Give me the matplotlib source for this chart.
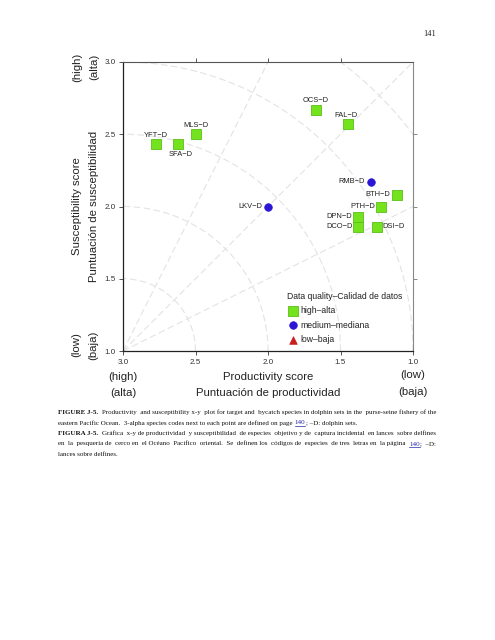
import matplotlib
matplotlib.use("Agg")
import matplotlib.pyplot as plt
import numpy as np
from matplotlib.lines import Line2D

plt.rcParams['font.family'] = ['Liberation Sans', 'DejaVu Sans']

# ---------------- data ----------------
high_codes = ['YFT−D', 'SFA−D', 'MLS−D', 'OCS−D', 'FAL−D',
              'BTH−D', 'PTH−D', 'DPN−D', 'DCO−D', 'DSI−D']
high_productivity = [2.77, 2.62, 2.50, 1.67, 1.45, 1.11, 1.22, 1.38, 1.38, 1.25]
high_susceptibility = [2.43, 2.43, 2.50, 2.67, 2.57, 2.08, 2.00, 1.93, 1.86, 1.86]

medium_codes = ['RMB−D', 'LKV−D']
medium_productivity = [1.29, 2.00]
medium_susceptibility = [2.17, 2.00]

low_codes = []
low_productivity = []
low_susceptibility = []

tick_values = [3.0, 2.5, 2.0, 1.5, 1.0]
tick_labels = ['3.0', '2.5', '2.0', '1.5', '1.0']
legend_labels = ['high–alta', 'medium–mediana', 'low–baja']
legend_title = 'Data quality–Calidad de datos'

# label placement (style): offset in points and alignment
label_style = {
    'YFT−D': ((0, 6.1), 'center', 'center'),
    'SFA−D': ((1.9, -7.0), 'center', 'center'),
    'MLS−D': ((0.5, 6.3), 'center', 'center'),
    'OCS−D': ((0, 6.4), 'center', 'center'),
    'FAL−D': ((-1.2, 6.3), 'center', 'center'),
    'RMB−D': ((-4.4, 0), 'right', 'center'),
    'BTH−D': ((-4.8, 0), 'right', 'center'),
    'PTH−D': ((-4.2, 0), 'right', 'center'),
    'DPN−D': ((-4.0, 0), 'right', 'center'),
    'DCO−D': ((-4.0, 0), 'right', 'center'),
    'DSI−D': ((4.0, 0), 'left', 'center'),
    'LKV−D': ((-4.2, 0), 'right', 'center'),
}

W, H = 495, 640
fig = plt.figure(figsize=(W / 100, H / 100), dpi=100)
fig.patch.set_facecolor('white')

def fx(px):
    return px / W

def fy(py):
    return 1 - py / H

ax_l, ax_r, ax_t, ax_b = 123, 413, 62, 351
ax = fig.add_axes([fx(ax_l), fy(ax_b), (ax_r - ax_l) / W, (ax_b - ax_t) / H])
ax.set_xlim(3.0, 1.0)
ax.set_ylim(1.0, 3.0)

# polar-style grid centred on (3, 1)
grid_kw = dict(color='#e3e3e3', lw=0.8, ls=(0, (6, 3)), zorder=0)
theta = np.linspace(0, np.pi / 2, 300)
for r in [0.5, 1.0, 1.5, 2.0, 2.5]:
    ax.plot(3 - r * np.cos(theta), 1 + r * np.sin(theta), **grid_kw)
for slope in [0.5, 1.0, 2.0]:
    a = np.arctan(slope)
    ax.plot([3, 3 - 3 * np.cos(a)], [1, 1 + 3 * np.sin(a)], **grid_kw)

# points
sq_kw = dict(marker='s', s=54, facecolor='#74E21C', edgecolor='#5BC018', linewidth=0.6, zorder=3)
ci_kw = dict(marker='o', s=30, facecolor='#2B16D6', edgecolor='#2B16D6', linewidth=0.5, zorder=3)
tr_kw = dict(marker='^', s=30, facecolor='#C81E1E', edgecolor='#C81E1E', linewidth=0.5, zorder=3)
h_high = ax.scatter(high_productivity, high_susceptibility, label=legend_labels[0], **sq_kw)
h_med = ax.scatter(medium_productivity, medium_susceptibility, label=legend_labels[1], **ci_kw)
h_low = ax.scatter(low_productivity, low_susceptibility, label=legend_labels[2], **tr_kw)

for codes, xs, ys in [(high_codes, high_productivity, high_susceptibility),
                      (medium_codes, medium_productivity, medium_susceptibility),
                      (low_codes, low_productivity, low_susceptibility)]:
    for c, x, y in zip(codes, xs, ys):
        off, ha, va = label_style.get(c, ((0, 6), 'center', 'center'))
        ax.annotate(c, (x, y), xytext=off, textcoords='offset points',
                    ha=ha, va=va, fontsize=5.4, color='#222222', zorder=4)

# axes styling
ax.set_xticks(tick_values)
ax.set_xticklabels(tick_labels)
ax.set_yticks(tick_values[::-1])
ax.set_yticklabels(tick_labels[::-1])
ax.tick_params(direction='out', length=3, width=0.7, colors='#555555',
               labelsize=5.8, labelcolor='#333333', pad=2.5)
for side in ['left', 'bottom']:
    ax.spines[side].set_color('#222222')
    ax.spines[side].set_linewidth(0.9)
ax.spines['top'].set_color('#555555')
ax.spines['top'].set_linewidth(0.8)
ax.spines['right'].set_color('#888888')
ax.spines['right'].set_linewidth(0.8)

secx = ax.secondary_xaxis('top')
secx.set_xticks(tick_values[1:4])
secx.set_xticklabels([])
secx.tick_params(direction='out', length=3, width=0.7, colors='#555555')
secx.spines['top'].set_visible(False)
secy = ax.secondary_yaxis('right')
secy.set_yticks(tick_values[1:4])
secy.set_yticklabels([])
secy.tick_params(direction='out', length=3, width=0.7, colors='#888888')
secy.spines['right'].set_visible(False)

leg = ax.legend(handles=[h_high, h_med, h_low], title=legend_title,
                loc='upper left', bbox_to_anchor=(0.567, 0.203),
                frameon=False, fontsize=6.2, title_fontsize=6.2,
                alignment='left', handletextpad=0.3, handlelength=1.2,
                labelspacing=0.6, borderpad=0.0, borderaxespad=0.0)
for t in leg.get_texts():
    t.set_color('#222222')
leg.get_title().set_color('#222222')

# axis titles
lab_kw = dict(fontsize=8.2, color='#222222', ha='center', va='center')
fig.text(fx(77), fy(67), '(high)', rotation=90, **lab_kw)
fig.text(fx(94), fy(67), '(alta)', rotation=90, **lab_kw)
fig.text(fx(77), fy(206), 'Susceptibility score', rotation=90, **lab_kw)
fig.text(fx(94), fy(206), 'Puntuación de susceptibilidad', rotation=90, **lab_kw)
fig.text(fx(76), fy(345), '(low)', rotation=90, **lab_kw)
fig.text(fx(93), fy(345), '(baja)', rotation=90, **lab_kw)
fig.text(fx(123), fy(377), '(high)', **lab_kw)
fig.text(fx(123), fy(393.5), '(alta)', **lab_kw)
fig.text(fx(268), fy(377), 'Productivity score', **lab_kw)
fig.text(fx(268), fy(393.5), 'Puntuación de productividad', **lab_kw)
fig.text(fx(413), fy(375.5), '(low)', **lab_kw)
fig.text(fx(413), fy(392), '(baja)', **lab_kw)

# page number
serif = ['Liberation Serif', 'DejaVu Serif']
fig.text(fx(430), fy(34), '141', family=serif, fontsize=6, ha='center', va='center', color='#222222')

# caption: each line is one text; approximate justification by extra spaces
caption = [
    ('FIGURE J-5.', 'Productivity and susceptibility x-y plot for target and bycatch species in dolphin sets in the purse-seine fishery of the', True),
    ('', 'eastern Pacific Ocean.  3-alpha species codes next to each point are defined on page 140; –D: dolphin sets.', False),
    ('FIGURA J-5.', 'Gráfica x-y de productividad y susceptibilidad de especies objetivo y de captura incidental en lances sobre delfines', True),
    ('', 'en la pesquería de cerco en el Océano Pacífico oriental.  Se definen los códigos de especies de tres letras en la página 140; –D:', True),
    ('', 'lances sobre delfines.', False),
]
baselines = [414, 424.5, 435, 445.5, 456]
cx0, cx1 = 58.3, 436.0

fig.canvas.draw()
renderer = fig.canvas.get_renderer()

def measure(s, fs, weight='normal'):
    t = fig.text(0, 0, s, family=serif, fontsize=fs, weight=weight)
    w = t.get_window_extent(renderer).width
    t.remove()
    return w

def full_text(bold, rest):
    return (bold + '  ' + rest) if bold else rest

ref_fs = 10.0
max_nat = max(measure(full_text(b, r), ref_fs) for b, r, _ in caption)
fs = ref_fs * (cx1 - cx0) / max_nat * 0.975
space = measure('a a', fs) - measure('aa', fs)

def width_with_spaces(s):
    core = s.rstrip(' ')
    return (measure(core, fs) if core else 0.0) + space * (len(s) - len(core))

for (bold, rest, just), yb in zip(caption, baselines):
    words = rest.split(' ')
    bold_w = 0.0
    if bold:
        bold_w = measure(bold, fs, 'bold') + 2 * space
        fig.text(fx(cx0), fy(yb), bold, family=serif, fontsize=fs, weight='bold',
                 color='#111111', ha='left', va='baseline')
    body = ' '.join(words)
    if just:
        avail = (cx1 - cx0) - bold_w
        nat = measure(body, fs)
        gaps = [i for i, w in enumerate(words[:-1]) if w]
        n_extra = int(round((avail - nat) / space)) if space > 0 else 0
        extra = [0] * len(words)
        for k in range(max(0, n_extra)):
            extra[gaps[(k * 7) % len(gaps)]] += 1
        body = ''.join(w + (' ' * (1 + extra[i]) if i < len(words) - 1 else '')
                       for i, w in enumerate(words))
    x_body = cx0 + bold_w
    if '140' in body:
        pre, post = body.split('140', 1)
        fig.text(fx(x_body), fy(yb), pre.rstrip(' '), family=serif, fontsize=fs,
                 color='#111111', ha='left', va='baseline')
        x140 = x_body + width_with_spaces(pre)
        w140 = measure('140', fs) + 0.4
        fig.text(fx(x140), fy(yb), '140', family=serif, fontsize=fs, color='#2222AA',
                 ha='left', va='baseline')
        fig.add_artist(Line2D([fx(x140), fx(x140 + w140 - 0.4)], [fy(yb + 1.2), fy(yb + 1.2)],
                              transform=fig.transFigure, color='#2222AA', lw=0.5))
        fig.text(fx(x140 + w140), fy(yb), post, family=serif, fontsize=fs,
                 color='#111111', ha='left', va='baseline')
    else:
        fig.text(fx(x_body), fy(yb), body, family=serif, fontsize=fs,
                 color='#111111', ha='left', va='baseline')

fig.savefig('out.png', dpi=100, facecolor='white')
